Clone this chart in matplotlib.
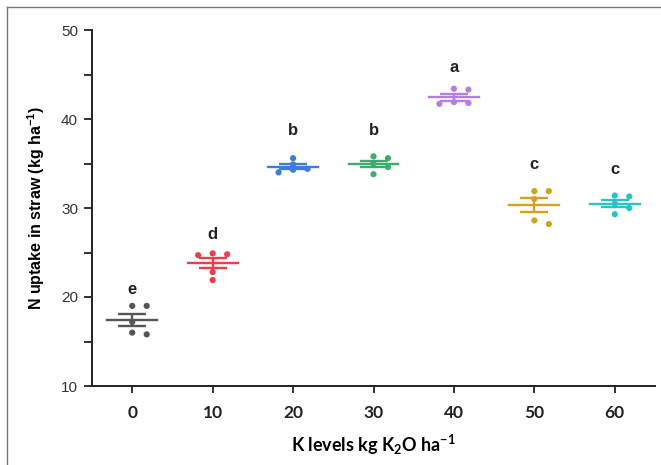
import numpy as np
import matplotlib
matplotlib.use("Agg")
import matplotlib.pyplot as plt
from matplotlib.lines import Line2D

# ---- data ----
k_levels = [0, 10, 20, 30, 40, 50, 60]
obs_0 = [19.0, 19.0, 17.2, 15.8, 16.0]
obs_10 = [24.7, 24.8, 24.9, 21.9, 22.8]
obs_20 = [35.6, 34.4, 34.3, 34.0, 34.9]
obs_30 = [35.8, 35.6, 34.6, 33.8, 35.0]
obs_40 = [43.3, 43.4, 41.8, 41.7, 41.9]
obs_50 = [31.9, 31.9, 31.0, 28.2, 28.6]
obs_60 = [31.4, 31.3, 30.5, 29.3, 30.0]
observations = [obs_0, obs_10, obs_20, obs_30, obs_40, obs_50, obs_60]
letters = ["e", "d", "b", "b", "a", "c", "c"]
letter_y = [20.0, 26.2, 37.9, 37.9, 45.0, 34.0, 33.5]
colors = ["#555555", "#e5404b", "#3b7dd8", "#3dab6b", "#b47ee0", "#d2a21c", "#2cc3c6"]
x_ticks = [0, 10, 20, 30, 40, 50, 60]
y_ticks = [10, 20, 30, 40, 50]

plt.rcParams['font.family'] = ['Liberation Sans', 'DejaVu Sans']
plt.rcParams['mathtext.default'] = 'regular'

fig = plt.figure(figsize=(6.61, 4.65), dpi=100)
ax = fig.add_axes([92/661, 1-386/465, (655-92)/661, (386-30)/465])

def swarm_offsets(vals, dy=0.6, dx=1.8):
    placed = []
    order = np.argsort(vals)[::-1]
    res = [0.0]*len(vals)
    for i in order:
        v = vals[i]
        for cand in [0, dx, -dx, 2*dx, -2*dx]:
            if all(abs(v - pv) > dy or abs(cand - po) > 0.1 for pv, po in placed):
                res[i] = cand
                placed.append((v, cand))
                break
    return res

for xk, vals, c, lt, ly in zip(k_levels, observations, colors, letters, letter_y):
    vals = np.array(vals)
    m = vals.mean()
    se = vals.std(ddof=1) / np.sqrt(len(vals))
    offs = swarm_offsets(list(vals))
    ax.scatter(xk + np.array(offs), vals, s=20, color=c, zorder=3, edgecolors='none')
    ax.plot([xk - 3.1, xk + 3.1], [m, m], color=c, lw=1.7, zorder=2)
    ax.errorbar([xk], [m], yerr=[se], color=c, capsize=10, capthick=1.7, elinewidth=1.7, fmt='none', zorder=2)
    ax.text(xk, ly, lt, ha='center', va='bottom', fontsize=12, fontweight='bold', color='#222222')

ax.set_xlim(-5, 65)
ax.set_ylim(10, 50)
ax.set_xticks(x_ticks)
ax.set_yticks(y_ticks)
ax.set_yticks([15, 25, 35, 45], minor=True)
for s in ['top', 'right']:
    ax.spines[s].set_visible(False)
for s in ['left', 'bottom']:
    ax.spines[s].set_linewidth(1.4)
    ax.spines[s].set_color('#222222')
ax.tick_params(axis='both', which='both', direction='out', width=1.3, colors='#222222')
ax.tick_params(axis='y', which='major', length=6, labelsize=11, pad=4, labelcolor='#333333')
ax.tick_params(axis='y', which='minor', length=6)
ax.tick_params(axis='x', length=5, labelsize=12.5, pad=9)
for lab in ax.get_xticklabels():
    lab.set_fontfamily(['Lato', 'DejaVu Sans'])
    lab.set_fontweight('bold')

ax.set_ylabel("N uptake in straw (kg ha$^{-1}$)", fontsize=11.5, fontweight='bold', labelpad=10)
ax.set_xlabel("K levels kg K$_{2}$O ha$^{-1}$", fontsize=13, fontweight='bold', labelpad=8,
              fontfamily=['Lato', 'DejaVu Sans'])

# figure border
fig.add_artist(Line2D([7/661, 7/661], [0, 1-7/465], transform=fig.transFigure, color='#777777', lw=1))
fig.add_artist(Line2D([7/661, 1], [1-7/465, 1-7/465], transform=fig.transFigure, color='#777777', lw=1))

fig.savefig("out.png", dpi=100)
